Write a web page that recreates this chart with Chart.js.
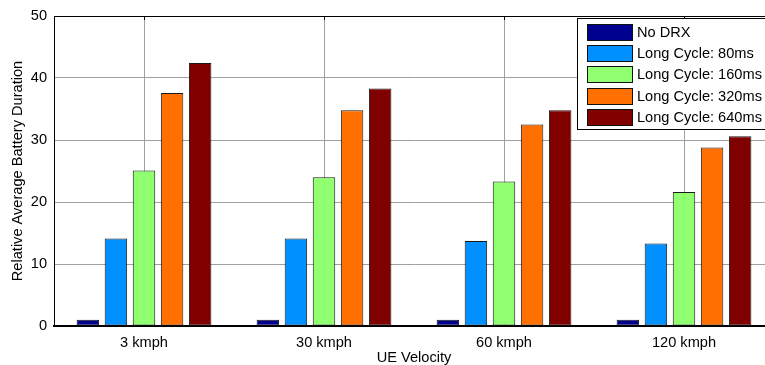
<!DOCTYPE html>
<html>
<head>
<meta charset="utf-8">
<script src="https://cdn.jsdelivr.net/npm/chart.js@4/dist/chart.umd.min.js"></script>
<style>
  html, body { margin: 0; padding: 0; background: #fff; overflow: hidden; }
  #wrap { width: 800px; height: 365px; }
</style>
</head>
<body>
<div id="wrap"><canvas id="batteryChart"></canvas></div>
<script>
const categories = ["3 kmph", "30 kmph", "60 kmph", "120 kmph"];
const seriesLabels = [
  "No DRX",
  "Long Cycle: 80ms",
  "Long Cycle: 160ms",
  "Long Cycle: 320ms",
  "Long Cycle: 640ms",
];
const noDrx = [1.0, 1.0, 1.0, 1.0];
const cycle80 = [14.1, 14.1, 13.7, 13.3];
const cycle160 = [25.1, 24.0, 23.3, 21.6];
const cycle320 = [37.6, 34.8, 32.5, 28.8];
const cycle640 = [42.4, 38.3, 34.8, 30.6];
const yTicks = [0, 10, 20, 30, 40, 50];

const colors = ["#00008f", "#0090ff", "#90ff70", "#ff7000", "#800000"];
const fontFamily = "'Liberation Sans', Arial, sans-serif";
const fontSize = 14.6;

const seriesValues = [noDrx, cycle80, cycle160, cycle320, cycle640];

// top border, top ticks and the boxed legend (MATLAB style)
const frameAndLegend = {
  id: "frameAndLegend",
  afterDraw(chart) {
    const ctx = chart.ctx;
    const area = chart.chartArea;
    const x = chart.scales.x;
    ctx.save();
    ctx.strokeStyle = "#000";
    ctx.lineWidth = 1;
    ctx.beginPath();
    ctx.moveTo(area.left, area.top + 0.5);
    ctx.lineTo(area.right, area.top + 0.5);
    categories.forEach((c, i) => {
      const px = Math.round(x.getPixelForValue(i)) + 0.5;
      ctx.moveTo(px, area.top);
      ctx.lineTo(px, area.top + 4);
    });
    ctx.stroke();

    const boxX = 577.5, boxY = 18.5, boxW = 210, boxH = 111;
    ctx.fillStyle = "#fff";
    ctx.fillRect(boxX, boxY, boxW, boxH);
    ctx.strokeRect(boxX, boxY, boxW, boxH);
    ctx.font = fontSize + "px " + fontFamily;
    ctx.textBaseline = "middle";
    chart.data.datasets.forEach((ds, i) => {
      const cy = 32 + i * 21.2;
      ctx.fillStyle = ds.backgroundColor;
      ctx.fillRect(587, Math.round(cy - 8), 45, 16);
      ctx.strokeStyle = "#111";
      ctx.strokeRect(587.5, Math.round(cy - 8) + 0.5, 45, 16);
      ctx.fillStyle = "#000";
      ctx.fillText(ds.label, 637, cy + 1);
    });
    ctx.restore();
  },
};

new Chart(document.getElementById("batteryChart"), {
  type: "bar",
  data: {
    labels: categories,
    datasets: seriesValues.map((values, i) => ({
      label: seriesLabels[i],
      data: values,
      backgroundColor: colors[i],
      borderColor: "#1a1a1a",
      borderWidth: 1,
      borderSkipped: false,
      categoryPercentage: 0.78,
      barPercentage: 0.8,
    })),
  },
  options: {
    responsive: true,
    maintainAspectRatio: false,
    animation: false,
    layout: { padding: { top: 16, right: 26, left: 0, bottom: 0 } },
    plugins: {
      legend: { display: false },
      tooltip: { enabled: false },
    },
    scales: {
      x: {
        grid: { offset: false, color: "#a0a0a0", drawTicks: false },
        border: { color: "#000", width: 2 },
        ticks: {
          color: "#000",
          padding: 8,
          font: { family: fontFamily, size: fontSize },
        },
        title: {
          display: true,
          text: "UE Velocity",
          color: "#000",
          padding: { top: 0, bottom: -2 },
          font: { family: fontFamily, size: fontSize },
        },
        afterFit(scale) {
          scale.height = 39;
        },
      },
      y: {
        min: 0,
        max: 50,
        grid: { color: "#a0a0a0", drawTicks: false },
        border: { color: "#000", width: 1 },
        afterBuildTicks(scale) {
          scale.ticks = yTicks.map((v) => ({ value: v }));
        },
        ticks: {
          color: "#000",
          padding: 7,
          font: { family: fontFamily, size: fontSize },
        },
        title: {
          display: true,
          text: "Relative Average Battery Duration",
          color: "#000",
          padding: { top: 9, bottom: 0 },
          font: { family: fontFamily, size: fontSize },
        },
        afterFit(scale) {
          scale.width = 54;
        },
      },
    },
  },
  plugins: [frameAndLegend],
});
</script>
</body>
</html>
